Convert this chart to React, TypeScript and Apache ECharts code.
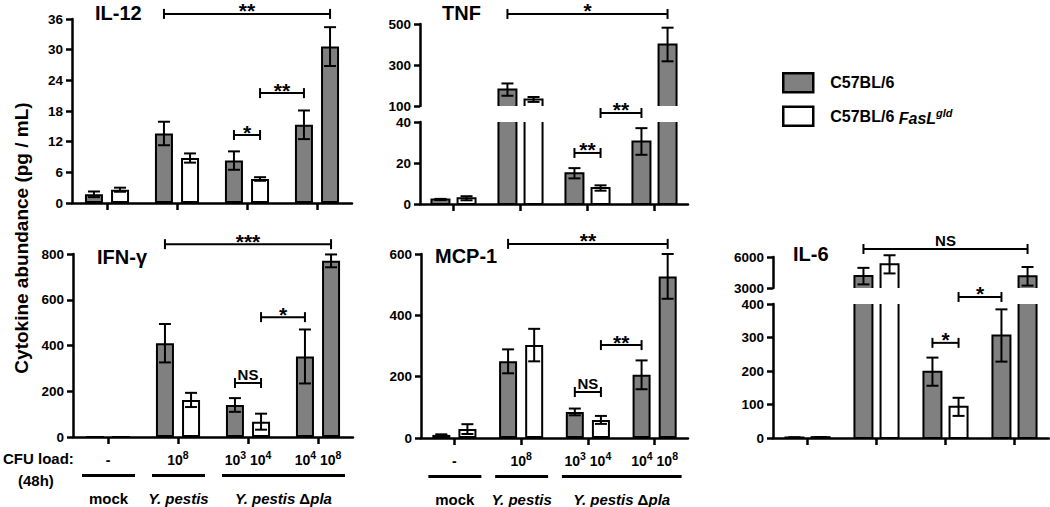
import React, { useEffect, useRef } from 'react';
import * as echarts from 'echarts';

// ---------------- data ----------------
const categories = ['-', '10^8', '10^3 10^4', '10^4 10^8'];
const groupNames = ['mock', '{i|Y. pestis}', '{i|Y. pestis} Δ{i|pla}'];
const groupSpans = [[0, 0], [1, 1], [2, 3]];
const seriesNames = ['C57BL/6', 'C57BL/6 FasLgld'];
// is each bar of the pair from C57BL/6 mice (grey)?
const leftGray = [true, true, true, true];
const rightGray = [false, false, false, true];

const il12Left = [1.7, 13.6, 8.3, 15.3];
const il12LeftErr = [0.55, 2.3, 1.8, 2.8];
const il12Right = [2.6, 8.8, 4.7, 30.6];
const il12RightErr = [0.4, 0.9, 0.35, 3.8];

const tnfLeft = [2.2, 180, 15, 30.5];
const tnfLeftErr = [0.3, 30, 2.5, 6.5];
const tnfRight = [2.8, 132, 7.8, 400];
const tnfRightErr = [1, 12, 1.3, 82];

const ifnLeft = [0, 410, 140, 352];
const ifnLeftErr = [0, 84, 30, 118];
const ifnRight = [0, 162, 67, 770];
const ifnRightErr = [0, 31, 35, 28];

const mcpLeft = [10, 250, 85, 206];
const mcpLeftErr = [2, 39, 11, 47];
const mcpRight = [29, 303, 59, 527];
const mcpRightErr = [16, 53, 13, 73];

const il6Left = [1.5, 4150, 198, 306];
const il6LeftErr = [0.5, 800, 42, 78];
const il6Right = [2.5, 5290, 93, 4130];
const il6RightErr = [0.5, 880, 27, 900];

// axis ranges [min, max, step]
const il12Axis = [0, 36, 6];
const tnfUpperAxis = [100, 500, 200];
const tnfUpperTicks = [100, 300, 500];
const tnfLowerAxis = [0, 40, 20];
const ifnAxis = [0, 800, 200];
const mcpAxis = [0, 600, 200];
const il6UpperAxis = [3000, 6000, 3000];
const il6LowerAxis = [0, 400, 100];

// significance brackets: [segment, cat1, side1, cat2, side2, level]
const il12Brackets = [[0, 1, 0, 3, 1, 37], [0, 2, 0, 2, 1, 13.3], [0, 2, 1, 3, 0, 21.5]];
const il12BracketLabels = ['**', '*', '**'];
const tnfBrackets = [[0, 1, 0, 3, 1, 549], [1, 2, 1, 3, 0, 44.4], [1, 2, 0, 2, 1, 24.9]];
const tnfBracketLabels = ['*', '**', '**'];
const ifnBrackets = [[0, 1, 0, 3, 1, 843], [0, 2, 1, 3, 0, 524], [0, 2, 0, 2, 1, 236]];
const ifnBracketLabels = ['***', '*', 'NS'];
const mcpBrackets = [[0, 1, 0, 3, 1, 633], [0, 2, 1, 3, 0, 303], [0, 2, 0, 2, 1, 150]];
const mcpBracketLabels = ['**', '**', 'NS'];
const il6Brackets = [[0, 1, 0, 3, 1, 6774], [1, 2, 1, 3, 0, 421], [1, 2, 0, 2, 1, 284]];
const il6BracketLabels = ['NS', '*', '*'];

// ---------------- styles ----------------
const FONT = 'Arial, "Liberation Sans", Helvetica, sans-serif';
const GRAY = '#808080';
const BLACK = '#000';
const BW = 18;
const GAP = 0.45;
const OFF = (BW + BW * GAP) / 2;
const CAP = 6;
const AXW = 2.5;

type Seg = { top: number; height: number; range: number[]; ticks?: number[]; base: boolean };
type Panel = {
  title: string; tx: number; ty: number; left: number; width: number; segs: Seg[];
  l: number[]; le: number[]; r: number[]; re: number[];
  br: number[][]; bl: string[]; xLabels: boolean;
};

const panels: Panel[] = [
  {
    title: 'IL-12', tx: 95, ty: 3, left: 72, width: 280,
    segs: [{ top: 19, height: 184, range: il12Axis, base: true }],
    l: il12Left, le: il12LeftErr, r: il12Right, re: il12RightErr,
    br: il12Brackets, bl: il12BracketLabels, xLabels: false,
  },
  {
    title: 'TNF', tx: 442, ty: 3, left: 420, width: 268,
    segs: [
      { top: 24, height: 82, range: tnfUpperAxis, ticks: tnfUpperTicks, base: false },
      { top: 122, height: 82, range: tnfLowerAxis, base: true },
    ],
    l: tnfLeft, le: tnfLeftErr, r: tnfRight, re: tnfRightErr,
    br: tnfBrackets, bl: tnfBracketLabels, xLabels: false,
  },
  {
    title: 'IFN-γ', tx: 97, ty: 247, left: 73, width: 280,
    segs: [{ top: 254, height: 183, range: ifnAxis, base: true }],
    l: ifnLeft, le: ifnLeftErr, r: ifnRight, re: ifnRightErr,
    br: ifnBrackets, bl: ifnBracketLabels, xLabels: true,
  },
  {
    title: 'MCP-1', tx: 435, ty: 246, left: 421, width: 267,
    segs: [{ top: 254, height: 184, range: mcpAxis, base: true }],
    l: mcpLeft, le: mcpLeftErr, r: mcpRight, re: mcpRightErr,
    br: mcpBrackets, bl: mcpBracketLabels, xLabels: true,
  },
  {
    title: 'IL-6', tx: 793, ty: 244, left: 773, width: 276,
    segs: [
      { top: 257, height: 31, range: il6UpperAxis, base: false },
      { top: 304, height: 134, range: il6LowerAxis, base: true },
    ],
    l: il6Left, le: il6LeftErr, r: il6Right, re: il6RightErr,
    br: il6Brackets, bl: il6BracketLabels, xLabels: false,
  },
];

const fmtSup = (v: string) =>
  v.split(' ').map((t) => {
    const [b, e] = t.split('^');
    return e ? `{n|${b}}{s|${e}}` : `{n|${b}}`;
  }).join('{n| }');

const supRich = {
  n: { fontSize: 14, fontWeight: 'bold', fontFamily: FONT, color: BLACK, verticalAlign: 'bottom', lineHeight: 18 },
  s: { fontSize: 10.5, fontWeight: 'bold', fontFamily: FONT, color: BLACK, verticalAlign: 'bottom', lineHeight: 18, padding: [0, 0, 7, 0] },
};

function buildOption() {
  const grid: any[] = [];
  const xAxis: any[] = [];
  const yAxis: any[] = [];
  const series: any[] = [];
  const axisLineStyle = { color: BLACK, width: AXW };
  const lineStyle = { stroke: BLACK, lineWidth: 2 };

  panels.forEach((p) => {
    const broken = p.segs.length > 1;
    p.segs.forEach((s, si) => {
      const g = grid.length;
      grid.push({ left: p.left, top: s.top, width: p.width, height: s.height });
      xAxis.push({
        type: 'category', gridIndex: g, data: categories,
        axisLine: { show: s.base, onZero: false, lineStyle: axisLineStyle },
        axisTick: { show: s.base, alignWithLabel: true, length: 7, lineStyle: axisLineStyle },
        axisLabel: {
          show: s.base && p.xLabels, margin: 12, interval: 0,
          formatter: fmtSup, rich: supRich,
        },
        splitLine: { show: false },
      });
      const [mn, mx, step] = s.range;
      const tickExtra = s.ticks ? { customValues: s.ticks } : {};
      yAxis.push({
        type: 'value', gridIndex: g, min: mn, max: mx,
        ...(s.ticks ? {} : { interval: step }),
        axisLine: { show: true, onZero: false, lineStyle: axisLineStyle },
        axisTick: { show: true, length: 6, lineStyle: axisLineStyle, ...tickExtra },
        axisLabel: {
          color: BLACK, fontFamily: FONT, fontWeight: 'bold', fontSize: 13.5, margin: 9,
          formatter: (v: number) => String(v), ...tickExtra,
        },
        splitLine: { show: false },
      });

      // bars
      if (!broken) {
        series.push({
          type: 'bar', name: seriesNames[0], xAxisIndex: g, yAxisIndex: g, z: 2,
          barWidth: BW, barGap: `${GAP * 100}%`, silent: true,
          itemStyle: { color: GRAY, borderColor: BLACK, borderWidth: 2 },
          data: p.l.map((v, i) => ({ value: v, itemStyle: { color: leftGray[i] ? GRAY : '#fff' } })),
        });
        series.push({
          type: 'bar', name: seriesNames[1], xAxisIndex: g, yAxisIndex: g, z: 2,
          barWidth: BW, barGap: `${GAP * 100}%`, silent: true,
          itemStyle: { color: '#fff', borderColor: BLACK, borderWidth: 2 },
          data: p.r.map((v, i) => ({ value: v, itemStyle: { color: rightGray[i] ? GRAY : '#fff' } })),
        });
      } else {
        const data = [
          ...p.l.map((v, i) => [i, 0, v, leftGray[i] ? 1 : 0]),
          ...p.r.map((v, i) => [i, 1, v, rightGray[i] ? 1 : 0]),
        ];
        series.push({
          type: 'custom', coordinateSystem: 'cartesian2d', xAxisIndex: g, yAxisIndex: g, z: 2,
          clip: true, silent: true, encode: { x: 0, y: 2 }, data,
          renderItem: (params: any, api: any) => {
            const cat = api.value(0), side = api.value(1), v = api.value(2), gray = api.value(3);
            const base = api.coord([cat, 0]);
            const top = api.coord([cat, v]);
            const xc = base[0] + (side ? OFF : -OFF);
            return {
              type: 'rect',
              shape: { x: xc - BW / 2, y: top[1], width: BW, height: base[1] - top[1] },
              style: { fill: gray ? GRAY : '#fff', stroke: BLACK, lineWidth: 2 },
            };
          },
        });
      }

      // error bars
      const segOf = (v: number) => (broken ? (v >= p.segs[0].range[0] ? 0 : 1) : 0);
      const errData: number[][] = [];
      p.l.forEach((v, i) => { if (p.le[i] > 0 && segOf(v) === si) errData.push([i, 0, v, p.le[i]]); });
      p.r.forEach((v, i) => { if (p.re[i] > 0 && segOf(v) === si) errData.push([i, 1, v, p.re[i]]); });
      series.push({
        type: 'custom', coordinateSystem: 'cartesian2d', xAxisIndex: g, yAxisIndex: g, z: 10,
        silent: true, encode: { x: 0, y: 2 }, data: errData,
        renderItem: (params: any, api: any) => {
          const cat = api.value(0), side = api.value(1), v = api.value(2), e = api.value(3);
          const x = api.coord([cat, v])[0] + (side ? OFF : -OFF);
          const yT = api.coord([cat, v + e])[1];
          const yB = api.coord([cat, v - e])[1];
          return {
            type: 'group',
            children: [
              { type: 'line', shape: { x1: x, y1: yT, x2: x, y2: yB }, style: lineStyle },
              { type: 'line', shape: { x1: x - CAP, y1: yT, x2: x + CAP, y2: yT }, style: lineStyle },
              { type: 'line', shape: { x1: x - CAP, y1: yB, x2: x + CAP, y2: yB }, style: lineStyle },
            ],
          };
        },
      });

      // significance brackets
      const brs = p.br.filter((b) => b[0] === si);
      const labels = p.bl.filter((_, k) => p.br[k][0] === si);
      if (brs.length) {
        series.push({
          type: 'custom', coordinateSystem: 'cartesian2d', xAxisIndex: g, yAxisIndex: g, z: 10,
          silent: true, encode: { x: 1, y: 5 }, data: brs,
          renderItem: (params: any, api: any) => {
            const c1 = api.value(1), s1 = api.value(2), c2 = api.value(3), s2 = api.value(4), lv = api.value(5);
            const p1 = api.coord([c1, lv]);
            const p2 = api.coord([c2, lv]);
            const x1 = p1[0] + (s1 ? OFF : -OFF);
            const x2 = p2[0] + (s2 ? OFF : -OFF);
            const y = p1[1];
            const label = labels[params.dataIndex];
            const stars = label.indexOf('*') >= 0;
            return {
              type: 'group',
              children: [
                { type: 'line', shape: { x1, y1: y, x2, y2: y }, style: lineStyle },
                { type: 'line', shape: { x1, y1: y - 5, x2: x1, y2: y + 5 }, style: lineStyle },
                { type: 'line', shape: { x1: x2, y1: y - 5, x2, y2: y + 5 }, style: lineStyle },
                {
                  type: 'text', x: (x1 + x2) / 2, y: stars ? y - 3 : y - 9,
                  style: {
                    text: label, align: 'center', verticalAlign: 'middle', fill: BLACK,
                    fontSize: stars ? 21 : 15, lineHeight: stars ? 12 : 14, fontWeight: 'bold', fontFamily: FONT,
                  },
                },
              ],
            };
          },
        });
      }

      // group annotations under the x axis
      if (s.base && p.xLabels) {
        series.push({
          type: 'custom', coordinateSystem: 'cartesian2d', xAxisIndex: g, yAxisIndex: g, z: 10,
          silent: true, encode: { x: 0, y: 1 }, data: groupSpans,
          renderItem: (params: any, api: any) => {
            const a = api.coord([api.value(0), 0]);
            const b = api.coord([api.value(1), 0]);
            const xa = a[0] - 26, xb = b[0] + 27;
            return {
              type: 'group',
              children: [
                { type: 'rect', shape: { x: xa, y: a[1] + 37, width: xb - xa, height: 3 }, style: { fill: BLACK } },
                {
                  type: 'text', x: (xa + xb) / 2, y: a[1] + 61,
                  style: {
                    text: groupNames[params.dataIndex], align: 'center', verticalAlign: 'middle',
                    fill: BLACK, fontSize: 15, fontWeight: 'bold', fontFamily: FONT,
                    rich: { i: { fontStyle: 'italic', fontWeight: 'bold', fontSize: 15, fontFamily: FONT, fill: BLACK } },
                  },
                },
              ],
            };
          },
        });
      }
    });
  });

  const titleStyle = { fontSize: 20, fontWeight: 'bold', fontFamily: FONT, color: BLACK };
  return {
    animation: false,
    backgroundColor: '#fff',
    title: panels.map((p) => ({ text: p.title, left: p.tx, top: p.ty, padding: 0, textStyle: titleStyle })),
    legend: {
      left: 782, top: 72, orient: 'vertical', icon: 'rect', itemWidth: 30, itemHeight: 19, itemGap: 12,
      selectedMode: false, padding: 0,
      data: [
        { name: seriesNames[0], itemStyle: { color: GRAY, borderColor: BLACK, borderWidth: 2.5 } },
        { name: seriesNames[1], itemStyle: { color: '#fff', borderColor: BLACK, borderWidth: 2.5 } },
      ],
      formatter: (n: string) => n.replace('FasLgld', '{i|FasL}{s|gld}'),
      textStyle: {
        fontSize: 16, fontWeight: 'bold', fontFamily: FONT, color: BLACK, padding: [0, 0, 0, 12],
        rich: {
          i: { fontSize: 16, fontWeight: 'bold', fontStyle: 'italic', fontFamily: FONT, color: BLACK, verticalAlign: 'bottom', lineHeight: 20 },
          s: { fontSize: 11, fontWeight: 'bold', fontStyle: 'italic', fontFamily: FONT, color: BLACK, verticalAlign: 'bottom', lineHeight: 20, padding: [0, 0, 8, 0] },
        },
      },
    },
    grid, xAxis, yAxis, series,
    graphic: [
      { type: 'text', left: 3, top: 451, style: { text: 'CFU load:', fontSize: 15, fontWeight: 'bold', fontFamily: FONT, fill: BLACK } },
      { type: 'text', left: 18, top: 473, style: { text: '(48h)', fontSize: 15, fontWeight: 'bold', fontFamily: FONT, fill: BLACK } },
      {
        type: 'text', x: 21, y: 238, rotation: Math.PI / 2,
        style: { text: 'Cytokine abundance (pg / mL)', align: 'center', verticalAlign: 'middle', fontSize: 19, fontWeight: 'bold', fontFamily: FONT, fill: BLACK },
      },
    ],
  };
}

export default function App() {
  const ref = useRef<HTMLDivElement>(null);
  useEffect(() => {
    if (!ref.current) return;
    const chart = echarts.init(ref.current, undefined, { renderer: 'svg' });
    chart.setOption(buildOption() as any);
    return () => chart.dispose();
  }, []);
  return <div ref={ref} style={{ position: 'absolute', left: 0, top: 0, width: 1050, height: 507 }} />;
}
